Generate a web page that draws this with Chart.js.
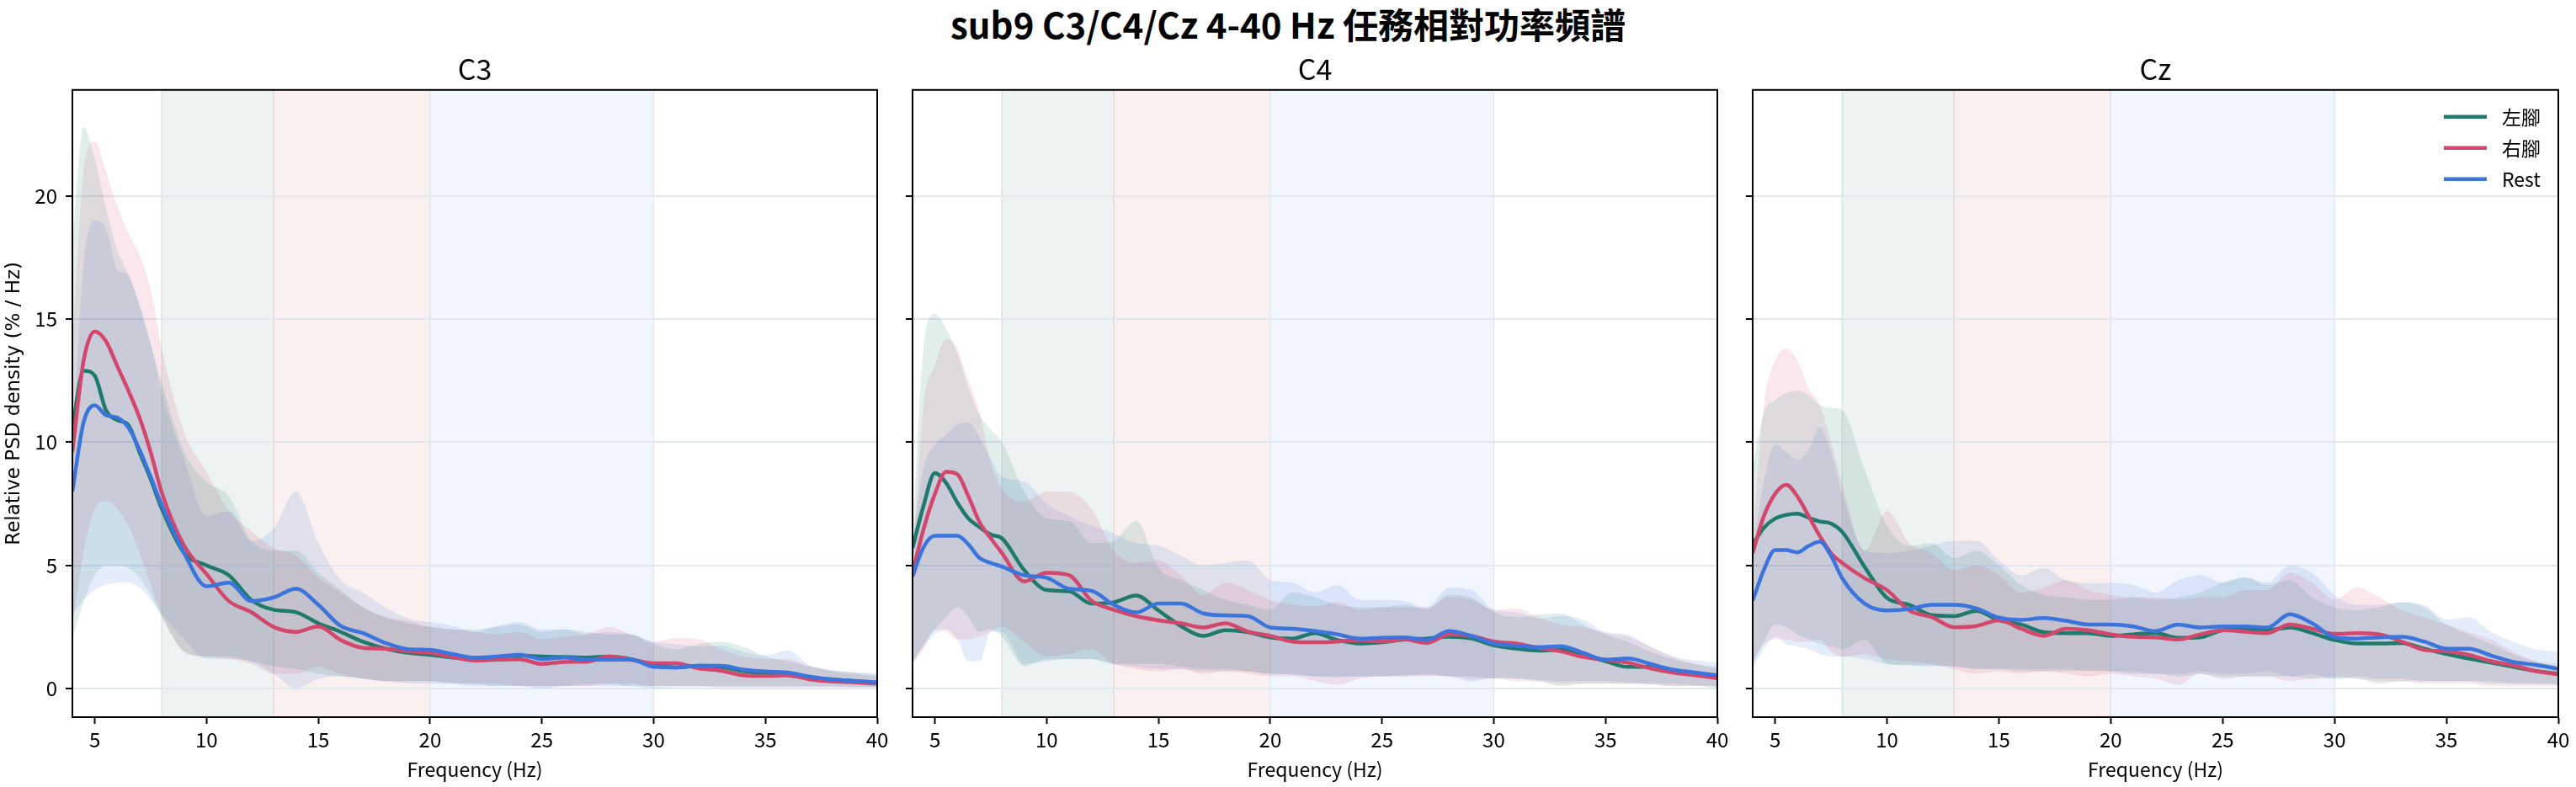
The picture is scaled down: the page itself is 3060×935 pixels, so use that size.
<!DOCTYPE html>
<html>
<head>
<meta charset="utf-8">
<script src="https://cdn.jsdelivr.net/npm/chart.js@4.4.1/dist/chart.umd.min.js"></script>
<style>
  body { margin: 0; background: #fff; }
  #page { position: relative; width: 3060px; height: 935px; overflow: hidden; background: #fff; }
  #title { position: absolute; left: 0; top: 2px; width: 3060px; text-align: center;
           font-family: 'Noto Sans CJK TC', 'Noto Sans', sans-serif; font-size: 42px; font-weight: bold; color: #000; line-height: 52px; }
  canvas { position: absolute; top: 0; }
</style>
</head>
<body>
<div id="page">
  <div id="title">sub9 C3/C4/Cz 4-40 Hz 任務相對功率頻譜</div>
  <canvas id="c3"></canvas>
  <canvas id="c4"></canvas>
  <canvas id="cz"></canvas>
</div>
<script>
// frequency grid (Hz)
const FREQ = [4, 4.5, 5, 5.5, 6, 6.5, 7, 7.5, 8,
  9, 10, 11, 12, 13, 14, 15, 16, 17, 18, 19, 20, 21, 22, 23, 24,
  25, 26, 27, 28, 29, 30, 31, 32, 33, 34, 35, 36, 37, 38, 39, 40];

const SERIES = ['左腳', '右腳', 'Rest'];
const X_TICKS = [5, 10, 15, 20, 25, 30, 35, 40];
const Y_TICKS = [0, 5, 10, 15, 20];
const BAND_RANGES = [[8, 13], [13, 20], [20, 30]];

// ---- C3 ----
const c3Left = [10.6, 12.9, 12.7, 11.3, 10.9, 10.7, 9.6, 8.5, 7.3,
  5.5, 5.0, 4.6, 3.6, 3.2, 3.1, 2.65, 2.3, 1.9, 1.62, 1.45, 1.37, 1.26, 1.22, 1.28, 1.34,
  1.3, 1.28, 1.26, 1.3, 1.19, 0.96, 0.86, 0.92, 0.88, 0.71, 0.6, 0.54, 0.42, 0.37, 0.3, 0.23];
const c3Right = [9.6, 13.3, 14.5, 14.1, 13.1, 12.1, 11.0, 9.6, 7.95,
  5.8, 4.65, 3.55, 3.1, 2.5, 2.3, 2.52, 1.97, 1.65, 1.62, 1.51, 1.45, 1.28, 1.14, 1.17, 1.19,
  1.0, 1.08, 1.09, 1.3, 1.17, 1.03, 1.03, 0.82, 0.73, 0.54, 0.51, 0.54, 0.37, 0.29, 0.25, 0.2];
const c3Rest = [8.0, 10.8, 11.5, 11.1, 11.0, 10.6, 9.7, 8.6, 7.45,
  5.5, 4.15, 4.3, 3.55, 3.7, 4.05, 3.4, 2.54, 2.25, 1.85, 1.6, 1.57, 1.4, 1.26, 1.3, 1.37,
  1.2, 1.26, 1.17, 1.17, 1.17, 0.88, 0.86, 0.92, 0.92, 0.77, 0.69, 0.65, 0.48, 0.37, 0.31, 0.25];
const c3LeftHi = [18, 22.8, 21.5, 19.5, 17.8, 16.8, 15.6, 14.0, 12.4,
  9.6, 8.4, 7.8, 6.0, 5.6, 5.6, 4.7, 4.0, 3.3, 2.9, 2.65, 2.5, 2.4, 2.4, 2.5, 2.6,
  2.3, 2.4, 2.3, 2.2, 2.2, 1.8, 1.6, 1.8, 1.9, 1.7, 1.3, 1.1, 0.9, 0.75, 0.65, 0.55];
const c3LeftLo = [2.0, 3.5, 4.6, 5.0, 5.0, 4.9, 4.5, 3.8, 2.9,
  1.5, 1.3, 1.3, 1.1, 0.9, 0.8, 0.6, 0.5, 0.4, 0.3, 0.3, 0.3, 0.2, 0.2, 0.1, 0.1,
  0.1, 0.1, 0.2, 0.2, 0.1, 0.1, 0.1, 0.1, 0.1, 0.1, 0.1, 0.1, 0.1, 0.1, 0.05, 0.05];
const c3RightHi = [14, 21.0, 22.2, 21.0, 19.6, 18.5, 17.6, 16.2, 13.8,
  10.4, 8.8, 7.2, 6.4, 5.7, 5.4, 4.5, 3.9, 3.3, 2.9, 2.75, 2.5, 2.4, 2.3, 2.2, 2.3,
  2.0, 2.1, 2.2, 2.5, 2.2, 1.9, 2.05, 2.0, 1.6, 1.3, 1.2, 1.2, 0.9, 0.7, 0.6, 0.5];
const c3RightLo = [2.5, 5.5, 7.3, 7.6, 7.3, 6.6, 5.5, 4.2, 3.0,
  1.5, 1.3, 1.2, 1.0, 0.6, 0.6, 0.9, 0.6, 0.4, 0.3, 0.3, 0.3, 0.25, 0.2, 0.2, 0.1,
  0.1, 0.1, 0.1, 0.2, 0.2, 0.1, 0.1, 0.1, 0.05, 0.05, 0.05, 0.05, 0.05, 0.05, 0.05, 0.05];
const c3RestHi = [10, 17.2, 19.0, 18.7, 17.0, 16.8, 15.5, 14.0, 12.0,
  9.3, 7.0, 7.2, 6.0, 6.5, 8.0, 5.9, 4.4, 3.9, 3.3, 2.85, 2.7, 2.55, 2.3, 2.55, 2.7,
  2.4, 2.4, 2.2, 2.3, 2.2, 1.9, 1.8, 1.7, 1.75, 1.5, 1.35, 1.55, 0.95, 0.72, 0.66, 0.62];
const c3RestLo = [3.0, 3.6, 4.0, 4.2, 4.3, 4.3, 4.1, 3.6, 3.0,
  2.0, 1.2, 1.2, 1.1, 0.6, 0.0, 0.4, 0.5, 0.4, 0.3, 0.2, 0.2, 0.2, 0.1, 0.1, 0.1,
  0.0, 0.1, 0.1, 0.1, 0.1, 0.0, 0.05, 0.05, 0.05, 0.05, 0.05, 0.05, 0.05, 0.05, 0.05, 0.05];

// ---- C4 ----
const c4Left = [5.7, 7.45, 8.75, 8.35, 7.55, 6.9, 6.55, 6.25, 6.1,
  4.8, 4.0, 3.95, 3.45, 3.5, 3.78, 3.17, 2.54, 2.14, 2.37, 2.29, 2.08, 2.03, 2.25, 1.97, 1.83,
  1.88, 1.99, 2.03, 2.1, 2.03, 1.76, 1.62, 1.54, 1.57, 1.34, 1.11, 0.88, 0.88, 0.71, 0.57, 0.48];
const c4Right = [4.7, 6.5, 7.9, 8.8, 8.7, 7.8, 6.75, 6.1, 5.5,
  4.35, 4.7, 4.6, 3.57, 3.2, 2.94, 2.77, 2.65, 2.48, 2.65, 2.31, 2.14, 1.91, 1.88, 1.91, 1.97,
  1.91, 1.99, 1.85, 2.2, 2.14, 1.91, 1.83, 1.65, 1.51, 1.28, 1.17, 1.05, 0.82, 0.65, 0.54, 0.42];
const c4Rest = [4.55, 5.75, 6.2, 6.2, 6.2, 5.85, 5.3, 5.1, 4.95,
  4.6, 4.5, 4.05, 3.97, 3.4, 3.09, 3.45, 3.45, 3.05, 2.97, 2.94, 2.48, 2.43, 2.33, 2.2, 2.03,
  2.06, 2.08, 1.97, 2.33, 2.14, 1.83, 1.74, 1.68, 1.72, 1.45, 1.17, 1.22, 1.0, 0.77, 0.65, 0.54];
const c4LeftHi = [6.0, 13.9, 15.2, 14.6, 13.6, 12.2, 11.1, 10.5, 10.0,
  8.0, 6.9, 6.8, 5.9, 6.0, 6.8, 4.9, 4.4, 4.0, 3.6, 3.4, 3.2, 3.9, 3.7, 3.4, 3.3,
  3.3, 3.4, 3.2, 3.8, 3.7, 3.1, 2.9, 3.0, 3.05, 2.6, 2.2, 1.9, 1.5, 1.2, 1.0, 0.9];
const c4LeftLo = [1.0, 1.8, 2.4, 2.9, 3.3, 2.9, 2.3, 2.4, 2.1,
  0.9, 1.2, 1.2, 1.2, 1.0, 1.0, 1.0, 0.9, 0.8, 0.8, 0.7, 0.6, 0.6, 0.5, 0.5, 0.5,
  0.5, 0.5, 0.6, 0.5, 0.5, 0.4, 0.4, 0.3, 0.1, 0.2, 0.2, 0.2, 0.2, 0.1, 0.1, 0.0];
const c4RightHi = [5.0, 11.5, 13.1, 14.2, 13.8, 12.5, 11.2, 9.2, 8.1,
  7.6, 8.0, 8.0, 7.3, 5.6, 5.1, 5.2, 4.6, 3.8, 4.3, 4.0, 3.6, 3.4, 3.35, 3.5, 3.2,
  3.3, 3.3, 3.3, 3.7, 3.6, 3.2, 3.25, 2.9, 2.6, 2.5, 2.25, 2.1, 1.7, 1.3, 1.0, 0.8];
const c4RightLo = [1.0, 1.6, 2.4, 2.3, 2.0, 2.0, 2.1, 2.3, 2.5,
  1.9, 1.3, 1.4, 1.6, 1.0, 0.8, 0.7, 0.8, 0.6, 0.7, 0.6, 0.5, 0.5, 0.3, 0.15, 0.4,
  0.5, 0.5, 0.5, 0.5, 0.4, 0.4, 0.3, 0.3, 0.2, 0.2, 0.2, 0.2, 0.15, 0.1, 0.1, 0.1];
const c4RestHi = [6.0, 9.0, 9.9, 10.3, 10.7, 10.8, 10.2, 9.3, 8.6,
  8.4, 7.5, 7.0, 6.6, 6.3, 5.9, 5.8, 5.4, 5.0, 5.1, 5.2, 4.4, 4.3, 3.9, 4.2, 3.6,
  3.6, 3.55, 3.3, 4.1, 4.0, 3.2, 3.1, 2.85, 2.95, 2.8, 2.3, 2.2, 1.7, 1.3, 1.15, 1.05];
const c4RestLo = [1.1, 1.7, 2.2, 2.4, 2.0, 1.1, 1.1, 2.3, 2.3,
  1.0, 1.1, 1.2, 1.2, 1.0, 0.9, 0.8, 0.8, 0.7, 0.7, 0.7, 0.6, 0.55, 0.5, 0.45, 0.5,
  0.5, 0.55, 0.55, 0.5, 0.3, 0.45, 0.4, 0.35, 0.3, 0.3, 0.3, 0.25, 0.2, 0.2, 0.15, 0.1];

// ---- Cz ----
const czLeft = [5.85, 6.53, 6.9, 7.05, 7.1, 6.93, 6.78, 6.7, 6.36,
  4.94, 3.68, 3.4, 2.98, 2.94, 3.15, 2.77, 2.6, 2.29, 2.25, 2.25, 2.14, 2.2, 2.25, 2.06, 2.08,
  2.37, 2.4, 2.37, 2.48, 2.25, 1.97, 1.83, 1.83, 1.85, 1.62, 1.4, 1.22, 1.05, 0.88, 0.71, 0.6];
const czRight = [5.5, 7.0, 7.9, 8.27, 7.79, 7.0, 6.19, 5.5, 5.1,
  4.48, 4.0, 3.17, 2.9, 2.49, 2.54, 2.77, 2.43, 2.14, 2.43, 2.37, 2.2, 2.1, 2.08, 1.99, 2.2,
  2.37, 2.31, 2.25, 2.6, 2.43, 2.22, 2.25, 2.2, 1.91, 1.57, 1.51, 1.37, 1.11, 0.94, 0.71, 0.57];
const czRest = [3.57, 4.82, 5.62, 5.62, 5.53, 5.79, 5.96, 5.39, 4.48,
  3.45, 3.17, 3.23, 3.4, 3.4, 3.25, 2.88, 2.79, 2.86, 2.75, 2.6, 2.6, 2.52, 2.33, 2.6, 2.48,
  2.52, 2.52, 2.48, 3.02, 2.65, 2.08, 2.03, 2.08, 2.1, 1.91, 1.62, 1.62, 1.34, 1.08, 0.96, 0.8];
const czLeftHi = [9.0, 11.2, 11.7, 12.0, 12.1, 11.9, 11.5, 11.4, 11.3,
  8.9, 6.6, 5.8, 5.9, 5.3, 5.6, 5.0, 4.2, 3.8, 3.7, 3.6, 3.6, 3.7, 3.6, 3.7, 3.9,
  4.3, 4.5, 4.2, 4.4, 3.7, 3.3, 3.2, 3.3, 3.5, 3.3, 2.6, 2.2, 1.8, 1.4, 1.1, 1.0];
const czLeftLo = [1.0, 1.9, 2.6, 2.5, 2.2, 2.0, 1.8, 1.7, 1.6,
  2.0, 1.0, 0.95, 0.95, 0.9, 0.8, 0.8, 0.7, 0.7, 0.7, 0.75, 0.7, 0.6, 0.6, 0.5, 0.6,
  0.4, 0.5, 0.5, 0.5, 0.4, 0.4, 0.4, 0.2, 0.3, 0.3, 0.3, 0.3, 0.2, 0.2, 0.2, 0.15];
const czRightHi = [6.0, 11.5, 13.3, 13.8, 13.3, 12.2, 11.5, 10.0, 8.3,
  5.6, 7.2, 5.9, 5.5, 4.8, 5.0, 4.6, 3.9, 4.1, 4.4, 4.0, 3.8, 3.7, 3.7, 3.6, 3.7,
  3.7, 4.0, 4.0, 4.7, 4.3, 3.6, 4.1, 3.7, 3.2, 2.9, 2.6, 2.3, 2.0, 1.5, 1.1, 0.9];
const czRightLo = [1.1, 1.8, 2.0, 2.0, 1.9, 1.9, 2.0, 1.5, 1.3,
  1.4, 1.2, 1.1, 1.0, 0.8, 0.6, 0.7, 0.6, 0.7, 0.6, 0.5, 0.6, 0.5, 0.4, 0.15, 0.6,
  0.5, 0.5, 0.5, 0.3, 0.4, 0.5, 0.4, 0.3, 0.3, 0.2, 0.2, 0.2, 0.1, 0.1, 0.1, 0.1];
const czRestHi = [5.5, 8.4, 9.9, 9.6, 9.3, 9.7, 10.6, 9.6, 7.9,
  5.6, 5.5, 5.6, 5.8, 6.0, 6.0, 5.2, 4.6, 4.9, 4.4, 4.3, 4.3, 4.2, 3.9, 4.4, 4.6,
  4.3, 4.5, 4.3, 5.0, 4.7, 3.8, 3.4, 3.4, 3.5, 3.4, 2.8, 2.9, 2.3, 1.9, 1.6, 1.5];
const czRestLo = [0.8, 1.6, 2.1, 1.8, 1.7, 1.6, 1.4, 1.3, 1.3,
  1.2, 1.0, 0.95, 0.9, 0.9, 0.8, 0.8, 0.8, 0.8, 0.8, 0.7, 0.7, 0.7, 0.6, 0.6, 0.7,
  0.6, 0.6, 0.7, 0.5, 0.6, 0.4, 0.5, 0.4, 0.4, 0.3, 0.3, 0.3, 0.3, 0.2, 0.2, 0.2];

// ---- style ----
const COLORS = ['#1f7a6b', '#d3476c', '#3b74dc'];
const BAND_FILLS = ['#edf3f2', '#f9f0ef', '#f1f5fd'];
const BAND_EDGES = ['#d9e5e2', '#e6dcdc', '#e3e8f3'];
const FONT = "'Noto Sans CJK TC', 'Noto Sans', sans-serif";
const Y_MIN = -1.16, Y_MAX = 24.3;

function pts(vals) {
    return FREQ.map((f, i) => ({ x: f, y: vals[i] }));
}

function hexA(hex, a) {
    const n = parseInt(hex.slice(1), 16);
    return `rgba(${(n >> 16) & 255},${(n >> 8) & 255},${n & 255},${a})`;
}

const panelDecor = {
    id: 'panelDecor',
    beforeDraw(chart) {
        const { ctx, chartArea: a, scales: { x } } = chart;
        ctx.save();
        BAND_RANGES.forEach(([f0, f1], i) => {
            const x0 = x.getPixelForValue(f0), x1 = x.getPixelForValue(f1);
            ctx.fillStyle = BAND_FILLS[i];
            ctx.fillRect(x0, a.top, x1 - x0, a.bottom - a.top);
            ctx.strokeStyle = BAND_EDGES[i];
            ctx.lineWidth = 1.5;
            ctx.beginPath();
            ctx.moveTo(x0, a.top); ctx.lineTo(x0, a.bottom);
            ctx.moveTo(x1, a.top); ctx.lineTo(x1, a.bottom);
            ctx.stroke();
        });
        ctx.restore();
    },
    afterDraw(chart, args, opts) {
        const { ctx, chartArea: a } = chart;
        ctx.save();
        ctx.strokeStyle = '#000';
        ctx.lineWidth = 2;
        ctx.strokeRect(a.left, a.top, a.right - a.left, a.bottom - a.top);
        if (opts.legend) {
            ctx.font = `23px ${FONT}`;
            ctx.textBaseline = 'middle';
            ctx.fillStyle = '#000';
            SERIES.forEach((name, i) => {
                const y = a.top + 32 + i * 37;
                ctx.strokeStyle = COLORS[i];
                ctx.lineWidth = 4.5;
                ctx.beginPath();
                ctx.moveTo(a.right - 136, y);
                ctx.lineTo(a.right - 85, y);
                ctx.stroke();
                ctx.fillText(name, a.right - 67, y);
            });
        }
        ctx.restore();
    }
};

function makePanel(id, title, left, width, yWidth, padRight, showY, legend, means, his, los) {
    const canvas = document.getElementById(id);
    canvas.width = width; canvas.height = 935;
    canvas.style.left = left + 'px';
    canvas.style.width = width + 'px';
    canvas.style.height = '935px';

    const datasets = [];
    // lines first so they are drawn on top; Rest on top of all
    [2, 1, 0].forEach(k => {
        datasets.push({
            label: SERIES[k], data: pts(means[k]), borderColor: COLORS[k],
            borderWidth: 4.5, pointRadius: 0, fill: false, cubicInterpolationMode: 'monotone'
        });
    });
    [0, 1, 2].forEach(k => {
        datasets.push({
            label: SERIES[k] + ' hi', data: pts(his[k]), borderWidth: 0, pointRadius: 0,
            backgroundColor: hexA(COLORS[k], 0.13), fill: '+1', cubicInterpolationMode: 'monotone'
        });
        datasets.push({
            label: SERIES[k] + ' lo', data: pts(los[k]), borderWidth: 0, pointRadius: 0,
            fill: false, cubicInterpolationMode: 'monotone'
        });
    });

    new Chart(canvas, {
        type: 'line',
        data: { datasets },
        options: {
            responsive: false,
            animation: false,
            devicePixelRatio: 1,
            layout: { padding: { top: 62, right: padRight, left: 0, bottom: 0 } },
            plugins: {
                legend: { display: false },
                tooltip: { enabled: false },
                title: {
                    display: true, text: title, color: '#000', fullSize: false,
                    font: { family: FONT, size: 34, weight: 'normal' },
                    padding: { top: 0, bottom: 4 }
                },
                panelDecor: { legend }
            },
            scales: {
                x: {
                    type: 'linear', min: 4, max: 40,
                    afterBuildTicks: s => { s.ticks = X_TICKS.map(v => ({ value: v })); },
                    afterFit: s => { s.height = 83; },
                    grid: { drawOnChartArea: false, tickLength: 8, tickColor: '#000', tickWidth: 2 },
                    border: { color: '#000', width: 2 },
                    ticks: { color: '#000', font: { family: FONT, size: 24 }, padding: 4, maxRotation: 0 },
                    title: {
                        display: true, text: 'Frequency (Hz)', color: '#000',
                        font: { family: FONT, size: 23 }, padding: { top: 0, bottom: 7 }
                    }
                },
                y: {
                    min: Y_MIN, max: Y_MAX,
                    afterBuildTicks: s => { s.ticks = Y_TICKS.map(v => ({ value: v })); },
                    afterFit: s => { s.width = yWidth; },
                    grid: { color: '#e2e8f0', lineWidth: 2, tickLength: 8, tickColor: '#000', tickWidth: 2 },
                    border: { color: '#000', width: 2 },
                    ticks: { display: showY, color: '#000', font: { family: FONT, size: 24 }, padding: 10 },
                    title: {
                        display: showY, text: 'Relative PSD density (% / Hz)', color: '#000',
                        font: { family: 'DejaVu Sans', size: 23 }, padding: { top: 3, bottom: 0 }
                    }
                }
            }
        },
        plugins: [panelDecor]
    });
}

makePanel('c3', 'C3', 0, 1062, 86, 20, true, false,
    [c3Left, c3Right, c3Rest], [c3LeftHi, c3RightHi, c3RestHi], [c3LeftLo, c3RightLo, c3RestLo]);
makePanel('c4', 'C4', 1064, 998, 20, 22, false, false,
    [c4Left, c4Right, c4Rest], [c4LeftHi, c4RightHi, c4RestHi], [c4LeftLo, c4RightLo, c4RestLo]);
makePanel('cz', 'Cz', 2062, 998, 20, 21, false, true,
    [czLeft, czRight, czRest], [czLeftHi, czRightHi, czRestHi], [czLeftLo, czRightLo, czRestLo]);
</script>
</body>
</html>
